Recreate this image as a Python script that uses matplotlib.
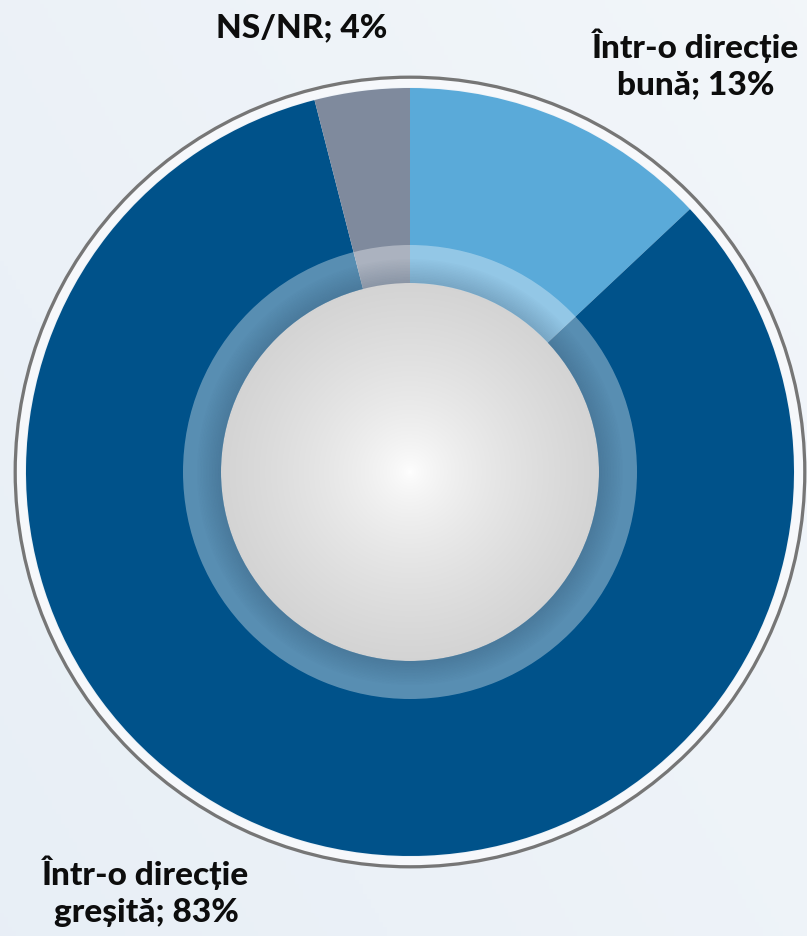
import numpy as np
import matplotlib
matplotlib.use("Agg")
from matplotlib import pyplot as plt
from matplotlib.patches import Circle, Wedge

# data
labels = ["Într-o direcție\nbună; 13%", "Într-o direcție\ngreșită; 83%", "NS/NR; 4%"]
values = [13, 83, 4]
colors = ["#5aaad9", "#00528a", "#7f8a9d"]

W, H = 807, 937
cx, cy = 410, H - 473
R = 384

fig = plt.figure(figsize=(W / 100, H / 100), dpi=100)
ax = fig.add_axes([0, 0, 1, 1])
ax.set_axis_off()

# background gradient
yy, xx = np.mgrid[0:1:200j, 0:1:200j]
t = (xx * 0.6 + (1 - yy) * 0.4)
c0 = np.array([0.91, 0.937, 0.965])
c1 = np.array([0.95, 0.965, 0.98])
bg = c0[None, None, :] * (1 - t[..., None]) + c1[None, None, :] * t[..., None]
ax.imshow(bg, extent=[0, W, 0, H], origin="upper", zorder=0, aspect="auto")

ax.pie(values, colors=colors, startangle=90, counterclock=False,
       center=(cx, cy), radius=R, wedgeprops=dict(linewidth=0, zorder=2))

# outer gray ring
ax.add_patch(Circle((cx, cy), R + 10, fill=False, edgecolor="#767676", lw=3.5, zorder=1))
ax.add_patch(Circle((cx, cy), R + 5, fill=False, edgecolor="#f6f8fb", lw=6, zorder=1))

# translucent inner ring
ax.add_patch(Wedge((cx, cy), 227, 0, 360, width=38, facecolor="white", alpha=0.35,
                   lw=0, zorder=3))
# shadow near the inner disc
for k in range(16):
    ax.add_patch(Wedge((cx, cy), 189 + 1.5 * (k + 1), 0, 360, width=1.5,
                       facecolor="#1a3550", alpha=0.22 * (1 - k / 16), lw=0, zorder=4))

# inner disc with radial gradient
r_in = 189
g = np.linspace(-1, 1, 400)
gx, gy = np.meshgrid(g, g)
rr = np.clip(np.sqrt(gx ** 2 + gy ** 2), 0, 1)
shade = 1.0 - 0.17 * rr ** 0.7
img = np.dstack([shade, shade, shade])
im = ax.imshow(img, extent=[cx - r_in, cx + r_in, cy - r_in, cy + r_in], zorder=5)
clip = Circle((cx, cy), r_in, transform=ax.transData)
im.set_clip_path(clip)

fs = 24
font = dict(fontsize=fs, fontweight="black", family=["Lato", "DejaVu Sans"],
            color="#0d0d0d", ha="center", va="center", linespacing=1.32, zorder=6)
ax.text(302, H - 28, labels[2], **font)
ax.text(696, H - 64, labels[0], **font)
ax.text(146, H - 891, labels[1], **font)

ax.set_xlim(0, W)
ax.set_ylim(0, H)
ax.set_aspect("auto")
fig.savefig("out.png", dpi=100)
